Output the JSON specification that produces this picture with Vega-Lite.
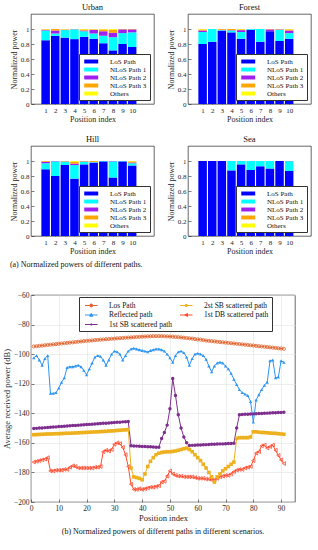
{
"$schema":"https://vega.github.io/schema/vega-lite/v6.json",
"padding":{"left":2,"right":2,"top":2,"bottom":2},
"background":"white",
"config":{
 "font":"Liberation Serif",
 "view":{"stroke":"#262626","strokeWidth":0.7},
 "axis":{"domain":false,"grid":false,"tickColor":"#262626","tickSize":-3,"tickWidth":0.6,"labelFontSize":7,"labelColor":"#262626","labelPadding":5,"titleFontSize":8,"titleFontWeight":"normal","titleColor":"#262626","titlePadding":2,"labelFlush":false,"gridColor":"#E3E3E3","gridWidth":0.6},
 "title":{"fontSize":8.5,"fontWeight":"normal","offset":3,"color":"#111"},
 "legend":{"labelFont":"Liberation Serif","labelColor":"#111"}
},
"datasets":{
 "bars":[
  {"s":"Urban","p":1,"L":0.85,"N1":0.13,"N2":0.01,"N3":0.005,"O":0.005},
  {"s":"Urban","p":2,"L":0.91,"N1":0.03,"N2":0.04,"N3":0.02,"O":0},
  {"s":"Urban","p":3,"L":0.885,"N1":0.1,"N2":0.005,"N3":0.005,"O":0.005},
  {"s":"Urban","p":4,"L":0.865,"N1":0.13,"N2":0.003,"N3":0.002,"O":0},
  {"s":"Urban","p":5,"L":0.895,"N1":0.075,"N2":0.01,"N3":0.015,"O":0.005},
  {"s":"Urban","p":6,"L":0.87,"N1":0.07,"N2":0.05,"N3":0.005,"O":0.005},
  {"s":"Urban","p":7,"L":0.81,"N1":0.1,"N2":0.06,"N3":0.025,"O":0.005},
  {"s":"Urban","p":8,"L":0.715,"N1":0.175,"N2":0.06,"N3":0.04,"O":0.01},
  {"s":"Urban","p":9,"L":0.8,"N1":0.145,"N2":0.05,"N3":0.005,"O":0},
  {"s":"Urban","p":10,"L":0.76,"N1":0.195,"N2":0.04,"N3":0.005,"O":0},
  {"s":"Forest","p":1,"L":0.8,"N1":0.16,"N2":0.02,"N3":0.015,"O":0.005},
  {"s":"Forest","p":2,"L":0.83,"N1":0.17,"N2":0,"N3":0,"O":0},
  {"s":"Forest","p":3,"L":0.975,"N1":0.01,"N2":0.005,"N3":0.01,"O":0},
  {"s":"Forest","p":4,"L":0.955,"N1":0.025,"N2":0.005,"N3":0.015,"O":0},
  {"s":"Forest","p":5,"L":0.87,"N1":0.09,"N2":0.025,"N3":0.01,"O":0.005},
  {"s":"Forest","p":6,"L":0.99,"N1":0.01,"N2":0,"N3":0,"O":0},
  {"s":"Forest","p":7,"L":0.83,"N1":0.17,"N2":0,"N3":0,"O":0},
  {"s":"Forest","p":8,"L":0.97,"N1":0,"N2":0.025,"N3":0.005,"O":0},
  {"s":"Forest","p":9,"L":0.84,"N1":0.15,"N2":0.005,"N3":0.005,"O":0},
  {"s":"Forest","p":10,"L":0.87,"N1":0.075,"N2":0.035,"N3":0.015,"O":0.005},
  {"s":"Hill","p":1,"L":0.89,"N1":0.08,"N2":0.02,"N3":0.01,"O":0},
  {"s":"Hill","p":2,"L":0.8,"N1":0.195,"N2":0.005,"N3":0,"O":0},
  {"s":"Hill","p":3,"L":0.947,"N1":0.045,"N2":0.003,"N3":0.005,"O":0},
  {"s":"Hill","p":4,"L":0.765,"N1":0.18,"N2":0.02,"N3":0.025,"O":0.01},
  {"s":"Hill","p":5,"L":0.955,"N1":0.035,"N2":0.005,"N3":0.005,"O":0},
  {"s":"Hill","p":6,"L":0.973,"N1":0.01,"N2":0.005,"N3":0.012,"O":0},
  {"s":"Hill","p":7,"L":0.995,"N1":0.005,"N2":0,"N3":0,"O":0},
  {"s":"Hill","p":8,"L":0.78,"N1":0.215,"N2":0.005,"N3":0,"O":0},
  {"s":"Hill","p":9,"L":0.995,"N1":0.005,"N2":0,"N3":0,"O":0},
  {"s":"Hill","p":10,"L":0.94,"N1":0.03,"N2":0.01,"N3":0.015,"O":0.005},
  {"s":"Sea","p":1,"L":1,"N1":0,"N2":0,"N3":0,"O":0},
  {"s":"Sea","p":2,"L":1,"N1":0,"N2":0,"N3":0,"O":0},
  {"s":"Sea","p":3,"L":1,"N1":0,"N2":0,"N3":0,"O":0},
  {"s":"Sea","p":4,"L":0.875,"N1":0.125,"N2":0,"N3":0,"O":0},
  {"s":"Sea","p":5,"L":0.955,"N1":0.045,"N2":0,"N3":0,"O":0},
  {"s":"Sea","p":6,"L":0.88,"N1":0.12,"N2":0,"N3":0,"O":0},
  {"s":"Sea","p":7,"L":0.93,"N1":0.07,"N2":0,"N3":0,"O":0},
  {"s":"Sea","p":8,"L":0.9,"N1":0.1,"N2":0,"N3":0,"O":0},
  {"s":"Sea","p":9,"L":1,"N1":0,"N2":0,"N3":0,"O":0},
  {"s":"Sea","p":10,"L":0.867,"N1":0.13,"N2":0.003,"N3":0,"O":0}
 ],
 "lines":[
  {"x":1,"L":-94.8,"R":-102.5,"S1":-150.3,"S2":-154.5,"D":-173},
  {"x":2,"L":-94.6,"R":-101,"S1":-150.2,"S2":-154.4,"D":-172.5},
  {"x":3,"L":-94.4,"R":-104,"S1":-150.0,"S2":-154.3,"D":-172},
  {"x":4,"L":-94.2,"R":-107.5,"S1":-149.9,"S2":-154.2,"D":-171.5},
  {"x":5,"L":-94.0,"R":-103,"S1":-149.7,"S2":-154.1,"D":-171},
  {"x":6,"L":-93.8,"R":-101,"S1":-149.6,"S2":-154.0,"D":-170},
  {"x":7,"L":-93.6,"R":-126.5,"S1":-149.5,"S2":-154.0,"D":-179},
  {"x":8,"L":-93.4,"R":-126.5,"S1":-149.3,"S2":-153.9,"D":-179},
  {"x":9,"L":-93.2,"R":-126,"S1":-149.2,"S2":-153.8,"D":-178.5},
  {"x":10,"L":-93.0,"R":-123,"S1":-149.0,"S2":-153.8,"D":-178.5},
  {"x":11,"L":-92.8,"R":-119,"S1":-148.9,"S2":-153.7,"D":-178.5},
  {"x":12,"L":-92.6,"R":-116,"S1":-148.8,"S2":-153.6,"D":-178},
  {"x":13,"L":-92.4,"R":-109,"S1":-148.6,"S2":-153.5,"D":-178},
  {"x":14,"L":-92.2,"R":-108.5,"S1":-148.5,"S2":-153.5,"D":-176.5},
  {"x":15,"L":-92.0,"R":-108.5,"S1":-148.3,"S2":-153.4,"D":-175.5},
  {"x":16,"L":-91.8,"R":-108,"S1":-148.2,"S2":-153.3,"D":-176},
  {"x":17,"L":-91.6,"R":-107.5,"S1":-148.1,"S2":-153.2,"D":-177},
  {"x":18,"L":-91.4,"R":-108.5,"S1":-147.9,"S2":-153.1,"D":-177},
  {"x":19,"L":-91.2,"R":-111,"S1":-147.8,"S2":-153.0,"D":-177},
  {"x":20,"L":-91.0,"R":-114,"S1":-147.6,"S2":-152.9,"D":-177},
  {"x":21,"L":-90.9,"R":-110,"S1":-147.5,"S2":-152.8,"D":-177},
  {"x":22,"L":-90.7,"R":-106,"S1":-147.4,"S2":-152.7,"D":-177},
  {"x":23,"L":-90.5,"R":-102,"S1":-147.2,"S2":-152.6,"D":-176.5},
  {"x":24,"L":-90.4,"R":-101,"S1":-147.1,"S2":-152.5,"D":-176.5},
  {"x":25,"L":-90.2,"R":-101.5,"S1":-146.9,"S2":-152.4,"D":-176},
  {"x":26,"L":-90.1,"R":-104,"S1":-146.8,"S2":-152.3,"D":-166},
  {"x":27,"L":-89.9,"R":-107.5,"S1":-146.7,"S2":-152.2,"D":-165},
  {"x":28,"L":-89.8,"R":-104,"S1":-146.5,"S2":-152.0,"D":-165.5},
  {"x":29,"L":-89.6,"R":-100,"S1":-146.4,"S2":-151.9,"D":-164.5},
  {"x":30,"L":-89.5,"R":-98,"S1":-146.2,"S2":-151.8,"D":-161},
  {"x":31,"L":-89.3,"R":-98.5,"S1":-146.1,"S2":-151.6,"D":-160},
  {"x":32,"L":-89.2,"R":-100,"S1":-146.0,"S2":-151.5,"D":-160.5},
  {"x":33,"L":-89.1,"R":-104,"S1":-145.8,"S2":-151.3,"D":-163},
  {"x":34,"L":-88.9,"R":-101,"S1":-145.7,"S2":-151.2,"D":-168},
  {"x":35,"L":-88.8,"R":-98,"S1":-145.5,"S2":-151.0,"D":-176},
  {"x":36,"L":-88.7,"R":-96.5,"S1":-162.0,"S2":-177,"D":-188},
  {"x":37,"L":-88.6,"R":-96,"S1":-162.1,"S2":-183,"D":-191.5},
  {"x":38,"L":-88.4,"R":-96.5,"S1":-162.2,"S2":-183.5,"D":-191.5},
  {"x":39,"L":-88.3,"R":-97,"S1":-162.3,"S2":-184,"D":-191},
  {"x":40,"L":-88.2,"R":-97.5,"S1":-162.4,"S2":-185,"D":-191.5},
  {"x":41,"L":-88.1,"R":-98,"S1":-162.5,"S2":-181,"D":-191},
  {"x":42,"L":-88.0,"R":-98.5,"S1":-162.6,"S2":-176,"D":-190.5},
  {"x":43,"L":-87.9,"R":-97.5,"S1":-162.7,"S2":-172.5,"D":-190},
  {"x":44,"L":-87.8,"R":-97,"S1":-162.8,"S2":-170,"D":-190},
  {"x":45,"L":-87.8,"R":-96.5,"S1":-162.9,"S2":-168,"D":-189.5},
  {"x":46,"L":-87.8,"R":-96.5,"S1":-163,"S2":-167,"D":-189},
  {"x":47,"L":-87.8,"R":-97,"S1":-157,"S2":-166.5,"D":-186.5},
  {"x":48,"L":-87.9,"R":-98,"S1":-153,"S2":-166.2,"D":-186},
  {"x":49,"L":-88.0,"R":-100,"S1":-148,"S2":-166,"D":-182.5},
  {"x":50,"L":-88.1,"R":-102.5,"S1":-137,"S2":-166,"D":-179},
  {"x":51,"L":-88.2,"R":-105.5,"S1":-116.5,"S2":-165.8,"D":-181},
  {"x":52,"L":-88.4,"R":-101,"S1":-128,"S2":-165.5,"D":-182},
  {"x":53,"L":-88.5,"R":-98.5,"S1":-141,"S2":-165,"D":-182.5},
  {"x":54,"L":-88.7,"R":-98,"S1":-150,"S2":-164.5,"D":-182.5},
  {"x":55,"L":-88.9,"R":-99,"S1":-156,"S2":-164,"D":-183},
  {"x":56,"L":-89.1,"R":-102,"S1":-160,"S2":-163.5,"D":-183},
  {"x":57,"L":-89.3,"R":-107.5,"S1":-161.8,"S2":-164.5,"D":-183},
  {"x":58,"L":-89.5,"R":-103,"S1":-161.7,"S2":-166,"D":-183},
  {"x":59,"L":-89.8,"R":-100,"S1":-161.6,"S2":-168,"D":-183.5},
  {"x":60,"L":-90.0,"R":-99.5,"S1":-161.5,"S2":-170,"D":-184},
  {"x":61,"L":-90.2,"R":-100,"S1":-161.4,"S2":-172,"D":-184},
  {"x":62,"L":-90.5,"R":-101,"S1":-161.3,"S2":-174.5,"D":-184},
  {"x":63,"L":-90.8,"R":-103.5,"S1":-161.2,"S2":-177,"D":-184.5},
  {"x":64,"L":-91.0,"R":-108,"S1":-161.1,"S2":-180,"D":-184.5},
  {"x":65,"L":-91.2,"R":-112,"S1":-161.0,"S2":-183,"D":-185},
  {"x":66,"L":-91.4,"R":-108,"S1":-160.9,"S2":-186.5,"D":-185},
  {"x":67,"L":-91.6,"R":-106,"S1":-160.8,"S2":-183,"D":-184},
  {"x":68,"L":-91.8,"R":-105.5,"S1":-160.7,"S2":-181,"D":-183},
  {"x":69,"L":-92.0,"R":-106,"S1":-160.7,"S2":-179,"D":-182.5},
  {"x":70,"L":-92.2,"R":-108,"S1":-160.6,"S2":-177.5,"D":-182},
  {"x":71,"L":-92.4,"R":-110,"S1":-160.5,"S2":-176,"D":-182},
  {"x":72,"L":-92.6,"R":-113,"S1":-160.4,"S2":-174.5,"D":-181},
  {"x":73,"L":-92.8,"R":-117,"S1":-160.3,"S2":-173,"D":-179.5},
  {"x":74,"L":-93.0,"R":-120.5,"S1":-150,"S2":-157,"D":-178.5},
  {"x":75,"L":-93.2,"R":-124,"S1":-141,"S2":-156.5,"D":-178},
  {"x":76,"L":-93.4,"R":-126,"S1":-140.8,"S2":-156.5,"D":-178},
  {"x":77,"L":-93.6,"R":-127,"S1":-140.7,"S2":-156.5,"D":-177},
  {"x":78,"L":-93.8,"R":-128,"S1":-140.6,"S2":-156.5,"D":-176.5},
  {"x":79,"L":-94.0,"R":-132,"S1":-140.5,"S2":-156,"D":-176},
  {"x":80,"L":-94.2,"R":-146,"S1":-140.4,"S2":-152.5,"D":-172},
  {"x":81,"L":-94.4,"R":-131,"S1":-140.3,"S2":-152.5,"D":-167},
  {"x":82,"L":-94.6,"R":-127.5,"S1":-140.2,"S2":-152.8,"D":-166},
  {"x":83,"L":-94.8,"R":-124,"S1":-140.1,"S2":-153,"D":-162},
  {"x":84,"L":-95.0,"R":-121,"S1":-140.0,"S2":-153,"D":-161.5},
  {"x":85,"L":-95.2,"R":-119,"S1":-139.9,"S2":-153.2,"D":-163.5},
  {"x":86,"L":-95.4,"R":-104.5,"S1":-139.8,"S2":-153.4,"D":-162.5},
  {"x":87,"L":-95.6,"R":-104,"S1":-139.7,"S2":-153.5,"D":-161.5},
  {"x":88,"L":-95.8,"R":-116,"S1":-139.6,"S2":-153.6,"D":-165},
  {"x":89,"L":-96.0,"R":-115.5,"S1":-139.5,"S2":-153.8,"D":-168.5},
  {"x":90,"L":-96.2,"R":-104.5,"S1":-139.4,"S2":-154,"D":-171.5},
  {"x":91,"L":-96.4,"R":-105.5,"S1":-139.3,"S2":-154.2,"D":-174}
 ]
},
"spacing":20,
"resolve":{"scale":{"color":"independent"},"legend":{"color":"independent"}},
"vconcat":[
 {
  "title":{"text":"(a) Normalized powers of different paths.","orient":"bottom","fontSize":8,"offset":6},
  "spacing":10,
  "resolve":{"legend":{"color":"independent"}},
  "vconcat":[
   {"spacing":11,"resolve":{"legend":{"color":"independent"}},"hconcat":[
    {"title":"Urban","width":123,"height":90,"data":{"name":"bars"},
     "transform":[{"filter":"datum.s === 'Urban'"},{"fold":["L","N1","N2","N3","O"],"as":["path","val"]}],
     "mark":{"type":"bar","size":8.5},
     "encoding":{
      "x":{"field":"p","type":"quantitative","scale":{"domain":[0,11.75],"nice":false},"axis":{"values":[1,2,3,4,5,6,7,8,9,10],"format":"d","title":"Position index"}},
      "y":{"field":"val","type":"quantitative","stack":"zero","scale":{"domain":[0,1.2],"nice":false},"axis":{"values":[0,0.2,0.4,0.6,0.8,1],"format":"~g","title":"Normalized power"}},
      "order":{"field":"path","type":"nominal","sort":"ascending"},
      "color":{"field":"path","type":"nominal","scale":{"domain":["L","N1","N2","N3","O"],"range":["#0000FF","#00FFFF","#A020F0","#FFA500","#FFFF00"]},
       "legend":{"orient":"bottom-right","offset":4,"title":null,"symbolType":"M-0.5,-0.44H2.6V0.44H-0.5Z","symbolSize":81,"symbolStrokeWidth":0,"labelOffset":19,"labelFontSize":7,"rowPadding":0,"padding":3,"fillColor":"white","strokeColor":"#333",
        "labelExpr":"datum.value === 'L' ? 'LoS Path' : datum.value === 'N1' ? 'NLoS Path 1' : datum.value === 'N2' ? 'NLoS Path 2' : datum.value === 'N3' ? 'NLoS Path 3' : 'Others'"}}
     }},
    {"title":"Forest","width":123,"height":90,"data":{"name":"bars"},
     "transform":[{"filter":"datum.s === 'Forest'"},{"fold":["L","N1","N2","N3","O"],"as":["path","val"]}],
     "mark":{"type":"bar","size":8.5},
     "encoding":{
      "x":{"field":"p","type":"quantitative","scale":{"domain":[0,11.75],"nice":false},"axis":{"values":[1,2,3,4,5,6,7,8,9,10],"format":"d","title":"Position index"}},
      "y":{"field":"val","type":"quantitative","stack":"zero","scale":{"domain":[0,1.2],"nice":false},"axis":{"values":[0,0.2,0.4,0.6,0.8,1],"format":"~g","title":"Normalized power"}},
      "order":{"field":"path","type":"nominal","sort":"ascending"},
      "color":{"field":"path","type":"nominal","scale":{"domain":["L","N1","N2","N3","O"],"range":["#0000FF","#00FFFF","#A020F0","#FFA500","#FFFF00"]},
       "legend":{"orient":"bottom-right","offset":4,"title":null,"symbolType":"M-0.5,-0.44H2.6V0.44H-0.5Z","symbolSize":81,"symbolStrokeWidth":0,"labelOffset":19,"labelFontSize":7,"rowPadding":0,"padding":3,"fillColor":"white","strokeColor":"#333",
        "labelExpr":"datum.value === 'L' ? 'LoS Path' : datum.value === 'N1' ? 'NLoS Path 1' : datum.value === 'N2' ? 'NLoS Path 2' : datum.value === 'N3' ? 'NLoS Path 3' : 'Others'"}}
     }}
   ]},
   {"spacing":11,"resolve":{"legend":{"color":"independent"}},"hconcat":[
    {"title":"Hill","width":123,"height":90,"data":{"name":"bars"},
     "transform":[{"filter":"datum.s === 'Hill'"},{"fold":["L","N1","N2","N3","O"],"as":["path","val"]}],
     "mark":{"type":"bar","size":8.5},
     "encoding":{
      "x":{"field":"p","type":"quantitative","scale":{"domain":[0,11.75],"nice":false},"axis":{"values":[1,2,3,4,5,6,7,8,9,10],"format":"d","title":"Position index"}},
      "y":{"field":"val","type":"quantitative","stack":"zero","scale":{"domain":[0,1.2],"nice":false},"axis":{"values":[0,0.2,0.4,0.6,0.8,1],"format":"~g","title":"Normalized power"}},
      "order":{"field":"path","type":"nominal","sort":"ascending"},
      "color":{"field":"path","type":"nominal","scale":{"domain":["L","N1","N2","N3","O"],"range":["#0000FF","#00FFFF","#A020F0","#FFA500","#FFFF00"]},
       "legend":{"orient":"bottom-right","offset":4,"title":null,"symbolType":"M-0.5,-0.44H2.6V0.44H-0.5Z","symbolSize":81,"symbolStrokeWidth":0,"labelOffset":19,"labelFontSize":7,"rowPadding":0,"padding":3,"fillColor":"white","strokeColor":"#333",
        "labelExpr":"datum.value === 'L' ? 'LoS Path' : datum.value === 'N1' ? 'NLoS Path 1' : datum.value === 'N2' ? 'NLoS Path 2' : datum.value === 'N3' ? 'NLoS Path 3' : 'Others'"}}
     }},
    {"title":"Sea","width":123,"height":90,"data":{"name":"bars"},
     "transform":[{"filter":"datum.s === 'Sea'"},{"fold":["L","N1","N2","N3","O"],"as":["path","val"]}],
     "mark":{"type":"bar","size":8.5},
     "encoding":{
      "x":{"field":"p","type":"quantitative","scale":{"domain":[0,11.75],"nice":false},"axis":{"values":[1,2,3,4,5,6,7,8,9,10],"format":"d","title":"Position index"}},
      "y":{"field":"val","type":"quantitative","stack":"zero","scale":{"domain":[0,1.2],"nice":false},"axis":{"values":[0,0.2,0.4,0.6,0.8,1],"format":"~g","title":"Normalized power"}},
      "order":{"field":"path","type":"nominal","sort":"ascending"},
      "color":{"field":"path","type":"nominal","scale":{"domain":["L","N1","N2","N3","O"],"range":["#0000FF","#00FFFF","#A020F0","#FFA500","#FFFF00"]},
       "legend":{"orient":"bottom-right","offset":4,"title":null,"symbolType":"M-0.5,-0.44H2.6V0.44H-0.5Z","symbolSize":81,"symbolStrokeWidth":0,"labelOffset":19,"labelFontSize":7,"rowPadding":0,"padding":3,"fillColor":"white","strokeColor":"#333",
        "labelExpr":"datum.value === 'L' ? 'LoS Path' : datum.value === 'N1' ? 'NLoS Path 1' : datum.value === 'N2' ? 'NLoS Path 2' : datum.value === 'N3' ? 'NLoS Path 3' : 'Others'"}}
     }}
   ]}
  ]
 },
 {
  "title":{"text":"(b) Normalized powers of different paths in different scenarios.","orient":"bottom","fontSize":8,"offset":6},
  "width":264,"height":207,
  "data":{"name":"lines"},
  "transform":[{"fold":["L","R","S1","S2","D"],"as":["series","v"]}],
  "encoding":{
   "x":{"field":"x","type":"quantitative","scale":{"domain":[0,95],"nice":false},"axis":{"values":[0,10,20,30,40,50,60,70,80,90],"grid":true,"title":"Position index","labelFontSize":7.5,"titleFontSize":8.5}},
   "y":{"field":"v","type":"quantitative","scale":{"domain":[-200,-60],"nice":false},"axis":{"values":[-200,-180,-160,-140,-120,-100,-80,-60],"grid":true,"title":"Average received power (dB)","labelFontSize":7.5,"titleFontSize":8.5}}
  },
  "layer":[
   {"mark":{"type":"line","strokeWidth":1},
    "encoding":{"color":{"field":"series","type":"nominal","scale":{"domain":["L","R","S1","S2","D"],"range":["#E2612A","#2E95F2","#7E2F8E","#EDB120","#FF4A2E"]},
     "legend":{"orient":"none","legendX":48,"legendY":2,"columns":2,"title":null,"symbolSize":100,"labelOffset":16,"labelFontSize":7.5,"rowPadding":0.5,"columnPadding":4,"padding":3,"fillColor":"white","strokeColor":"#333",
      "labelExpr":"datum.value === 'L' ? 'Los Path' : datum.value === 'R' ? 'Reflected path' : datum.value === 'S1' ? '1st SB scattered path' : datum.value === 'S2' ? '2st SB scattered path' : '1st DB scattered path'",
      "encode":{"symbols":{"update":{
       "shape":{"signal":"datum.value === 'L' ? 'M-0.5,0H2M0.45,0A0.3,0.3 0 1,0 1.05,0A0.3,0.3 0 1,0 0.45,0' : datum.value === 'R' ? 'M-0.5,0H2M0.75,-0.32L1.07,0.24L0.43,0.24Z' : datum.value === 'S1' ? 'M-0.5,0H2M0.6,0A0.15,0.15 0 1,0 0.9,0A0.15,0.15 0 1,0 0.6,0' : datum.value === 'S2' ? 'M-0.5,0H2M0.57,-0.18H0.93V0.18H0.57Z' : 'M-0.5,0H2M0.45,0L1.0,-0.3L1.0,0.3Z'"},
       "stroke":{"signal":"datum.value === 'L' ? '#E2612A' : datum.value === 'R' ? '#2E95F2' : datum.value === 'S1' ? '#7E2F8E' : datum.value === 'S2' ? '#EDB120' : '#FF4A2E'"},
       "fill":{"signal":"datum.value === 'R' ? '#2E95F2' : datum.value === 'S1' ? '#7E2F8E' : datum.value === 'S2' ? '#EDB120' : 'transparent'"},
       "strokeWidth":{"value":1},
       "opacity":{"value":1}
      }}}}}}},
   {"transform":[{"filter":{"field":"series","oneOf":["L","D"]}}],
    "mark":{"type":"point","filled":false,"strokeWidth":0.8,"opacity":1},
    "encoding":{
     "color":{"field":"series","type":"nominal","scale":{"domain":["L","R","S1","S2","D"],"range":["#E2612A","#2E95F2","#7E2F8E","#EDB120","#FF4A2E"]},"legend":null},
     "shape":{"field":"series","type":"nominal","scale":{"domain":["L","R","S1","S2","D"],"range":["circle","triangle-up","circle","square","triangle-left"]},"legend":null},
     "size":{"field":"series","type":"nominal","scale":{"domain":["L","R","S1","S2","D"],"range":[10,14,5,6,10]},"legend":null}
    }},
   {"transform":[{"filter":{"field":"series","oneOf":["R","S1","S2"]}}],
    "mark":{"type":"point","filled":true,"opacity":1},
    "encoding":{
     "color":{"field":"series","type":"nominal","scale":{"domain":["L","R","S1","S2","D"],"range":["#E2612A","#2E95F2","#7E2F8E","#EDB120","#FF4A2E"]},"legend":null},
     "shape":{"field":"series","type":"nominal","scale":{"domain":["L","R","S1","S2","D"],"range":["circle","triangle-up","circle","square","triangle-left"]},"legend":null},
     "size":{"field":"series","type":"nominal","scale":{"domain":["L","R","S1","S2","D"],"range":[10,14,5,6,10]},"legend":null}
    }}
  ]
 }
]
}
